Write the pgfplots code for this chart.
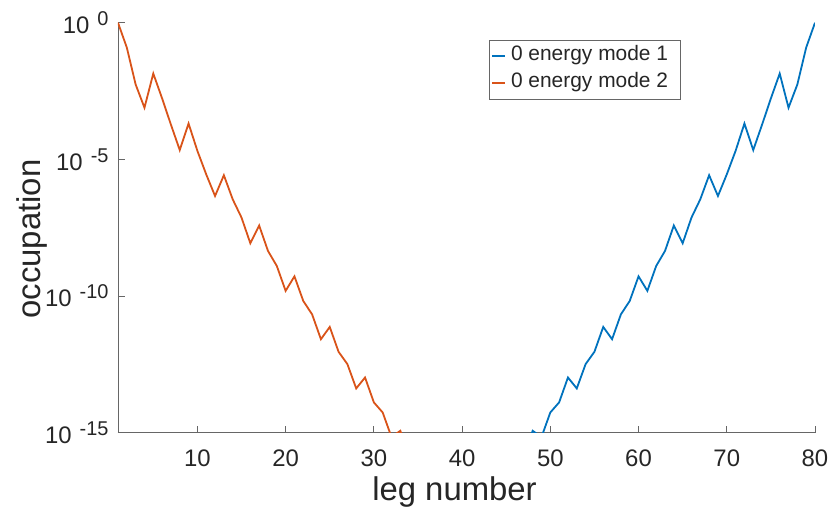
\documentclass[border=0pt]{standalone}
\usepackage{fontspec}
\setmainfont{Liberation Sans}
\usepackage{pgfplots}
\pgfplotsset{compat=1.18}
\definecolor{mblue}{rgb}{0,0.447,0.741}
\definecolor{morange}{rgb}{0.85,0.325,0.098}
\definecolor{txtgray}{rgb}{0.15,0.15,0.15}
\newcommand\tl[1]{10\kern8bp\raisebox{8bp}{\fontsize{20}{20}\selectfont #1}}
\begin{document}
\begin{tikzpicture}
\begin{axis}[
  scale only axis, width=697bp, height=410bp,
  ymode=log, xmin=1, xmax=80, ymin=1e-15, ymax=1,
  axis lines*=left,
  axis line style={black!60, line width=0.8bp},
  every tick/.style={black!60, line width=0.8bp},
  tick align=inside,
  major tick length=7bp,
  yminorticks=false, xminorticks=false,
  xtick={10,20,30,40,50,60,70,80},
  xticklabels={10,20,30,40,50,60,70,80},
  ytick={1e-15,1e-10,1e-5,1},
  yticklabels={\tl{-15},\tl{-10},\tl{-5},\tl{0}},
  ticklabel style={font=\fontsize{24}{28}\selectfont, text=txtgray},
  xticklabel style={yshift=-14bp},
  yticklabel style={xshift=-6bp},
  xlabel={leg number},
  ylabel={occupation},
  label style={font=\fontsize{33}{37}\selectfont, text=txtgray},
  xlabel style={at={(axis description cs:0.5,0)}, anchor=base, yshift=-68bp, xshift=-12bp},
  ylabel style={at={(axis description cs:-0.111,0.472)}, anchor=base},
  legend style={at={(axis description cs:0.532,0.9585)}, anchor=north west,
    draw=black!60, line width=0.5bp, fill=white,
    inner xsep=2bp, inner ysep=2.5bp, row sep=0bp, column sep=3bp,
    font=\fontsize{21}{24}\selectfont, text=txtgray,
    nodes={inner sep=2bp, text height=16bp, text depth=7bp}},
  legend cell align=left,
  legend image code/.code={\draw[#1, line width=2bp] (0bp,0bp) -- (13bp,0bp);},
]
\addplot[mblue, line width=1.8bp] coordinates {
(45,1.26e-17) (46,5.0e-17) (47,1.58e-16) (48,1.175e-15) (49,6.918e-16) (50,5.495e-15)
(51,1.288e-14) (52,1.047e-13) (53,4.169e-14) (54,3.236e-13) (55,9.12e-13)
(56,7.413e-12) (57,2.630e-12) (58,2.138e-11) (59,6.607e-11) (60,5.248e-10)
(61,1.549e-10) (62,1.259e-9) (63,4.467e-9) (64,3.802e-8) (65,8.511e-9)
(66,7.413e-8) (67,3.467e-7) (68,2.630e-6) (69,4.571e-7) (70,2.818e-6)
(71,2.042e-5) (72,2.042e-4) (73,2.188e-5) (74,1.862e-4) (75,1.698e-3)
(76,1.380e-2) (77,7.76e-4) (78,5.495e-3) (79,0.1230) (80,1)
};
\addlegendentry{\makebox[165bp][l]{0 energy mode 1}}
\addplot[morange, line width=1.8bp] coordinates {
(1,1) (2,0.1230) (3,5.495e-3) (4,7.76e-4) (5,1.380e-2)
(6,1.698e-3) (7,1.862e-4) (8,2.188e-5) (9,2.042e-4) (10,2.042e-5)
(11,2.818e-6) (12,4.571e-7) (13,2.630e-6) (14,3.467e-7) (15,7.413e-8)
(16,8.511e-9) (17,3.802e-8) (18,4.467e-9) (19,1.259e-9) (20,1.549e-10)
(21,5.248e-10) (22,6.607e-11) (23,2.138e-11) (24,2.630e-12) (25,7.413e-12)
(26,9.12e-13) (27,3.236e-13) (28,4.169e-14) (29,1.047e-13) (30,1.288e-14)
(31,5.495e-15) (32,6.918e-16) (33,1.175e-15) (34,1.58e-16) (35,5.0e-17) (36,1.26e-17)
};
\addlegendentry{\makebox[165bp][l]{0 energy mode 2}}
\end{axis}
\pgfresetboundingbox
\path (current axis.south west) ++(-118bp,-75.3bp) rectangle ++(830bp,508bp);
\end{tikzpicture}
\end{document}
